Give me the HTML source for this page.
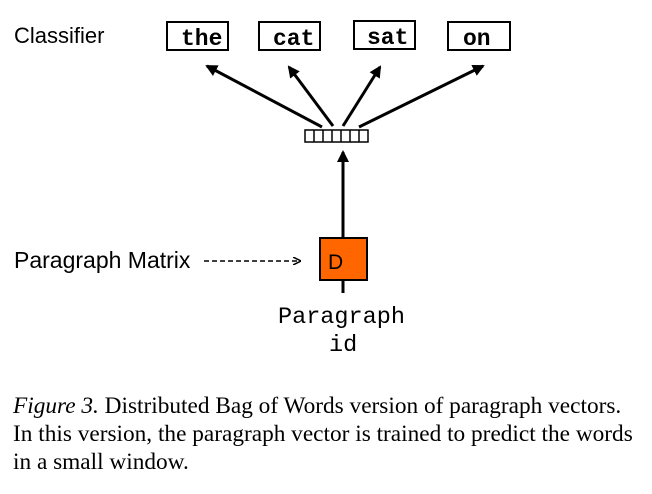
<!DOCTYPE html>
<html><head><style>body{margin:0;background:#fff}</style></head><body>
<svg width="652" height="489" xmlns="http://www.w3.org/2000/svg">
<defs><marker id="a" markerWidth="12" markerHeight="12" refX="10" refY="6" orient="auto" markerUnits="userSpaceOnUse"><path d="M0,0 L12,6 L0,12 z" fill="#000"/></marker>
<marker id="b" markerWidth="8" markerHeight="8" refX="7" refY="4" orient="auto" markerUnits="userSpaceOnUse"><path d="M0,0 L8,4 L0,8" fill="none" stroke="#000" stroke-width="1.5"/></marker></defs>
<text x="14" y="43" font-family="Liberation Sans, sans-serif" font-size="22">Classifier</text>
<g fill="none" stroke="#000" stroke-width="2">
<rect x="167" y="22" width="61" height="28"/><rect x="259" y="22" width="61" height="28"/>
<rect x="354" y="21" width="61" height="28"/><rect x="448" y="22" width="62" height="28"/>
</g>
<g font-family="Liberation Mono, monospace" font-size="23" font-weight="bold">
<text x="181" y="45">the</text><text x="273" y="45">cat</text><text x="367" y="44">sat</text><text x="463" y="45">on</text>
</g>
<g stroke="#000" stroke-width="3" marker-end="url(#a)">
<line x1="322" y1="127" x2="207" y2="66"/><line x1="333" y1="126" x2="289" y2="67"/>
<line x1="343" y1="126" x2="380" y2="67"/><line x1="359" y1="127" x2="483" y2="66"/>
<line x1="343" y1="237" x2="343" y2="152"/>
</g>
<g fill="none" stroke="#000" stroke-width="1.5">
<rect x="305" y="130" width="63" height="12"/>
<line x1="314" y1="130" x2="314" y2="142"/><line x1="323" y1="130" x2="323" y2="142"/><line x1="332" y1="130" x2="332" y2="142"/><line x1="341" y1="130" x2="341" y2="142"/><line x1="350" y1="130" x2="350" y2="142"/><line x1="359" y1="130" x2="359" y2="142"/>
</g>
<rect x="320" y="238" width="47" height="42" fill="#ff6600" stroke="#000" stroke-width="2"/>
<line x1="343" y1="280" x2="343" y2="293" stroke="#000" stroke-width="3"/>
<text x="328" y="269" font-family="Liberation Sans, sans-serif" font-size="21">D</text>
<text x="14" y="268" font-family="Liberation Sans, sans-serif" font-size="23">Paragraph Matrix</text>
<line x1="204" y1="261" x2="300" y2="261" stroke="#000" stroke-width="1.5" stroke-dasharray="5,3" marker-end="url(#b)"/>
<text x="278" y="323" font-family="Liberation Mono, monospace" font-size="23.5">Paragraph</text>
<text x="329" y="351" font-family="Liberation Mono, monospace" font-size="23.5">id</text>
<g font-family="Liberation Serif, serif" font-size="23.3">
<text x="13" y="413"><tspan font-style="italic">Figure 3.</tspan> Distributed Bag of Words version of paragraph vectors.</text>
<text x="13" y="441">In this version, the paragraph vector is trained to predict the words</text>
<text x="13" y="469">in a small window.</text>
</g>
</svg>
</body></html>
